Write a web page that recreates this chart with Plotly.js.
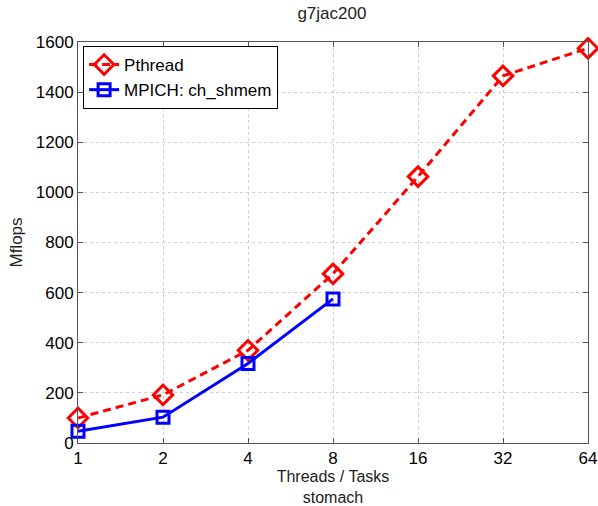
<!DOCTYPE html>
<html>
<head>
<meta charset="utf-8">
<script src="https://cdn.plot.ly/plotly-3.0.1.min.js"></script>
<style>html,body{margin:0;padding:0;background:#fff;}#chart{width:598px;height:506px;}</style>
</head>
<body>
<div id="chart"></div>
<script>
const threads = ['1', '2', '4', '8', '16', '32', '64'];
const pthreadMflops = [100, 192, 370, 675, 1063, 1465, 1575];
const mpichThreads = ['1', '2', '4', '8'];
const mpichMflops = [47, 103, 317, 575];
const yTicks = [0, 200, 400, 600, 800, 1000, 1200, 1400, 1600];

const font = 'Liberation Sans, Arial, Helvetica, sans-serif';

const traces = [
  {
    x: threads, y: pthreadMflops, name: 'Pthread', type: 'scatter', mode: 'lines+markers',
    cliponaxis: false,
    line: {color: '#ff0000', width: 3, dash: '8px,5px'},
    marker: {symbol: 'diamond-open', size: 15, color: '#ff0000', line: {width: 3, color: '#ff0000'}}
  },
  {
    x: mpichThreads, y: mpichMflops, name: 'MPICH: ch_shmem', type: 'scatter', mode: 'lines+markers',
    cliponaxis: false,
    line: {color: '#0000ff', width: 3},
    marker: {symbol: 'square-open', size: 12, color: '#0000ff', line: {width: 3, color: '#0000ff'}}
  }
];

const layout = {
  width: 598, height: 506,
  margin: {l: 78, r: 10, t: 42, b: 63},
  paper_bgcolor: '#fff', plot_bgcolor: '#fff',
  font: {family: font, size: 17, color: '#000'},
  title: {text: 'g7jac200', font: {family: font, size: 17, color: '#222'}, x: 0.555, xanchor: 'center', y: 0.985, yanchor: 'top'},
  showlegend: true,
  legend: {
    x: 0.01, y: 0.99, xanchor: 'left', yanchor: 'top',
    bgcolor: '#fff', bordercolor: '#000', borderwidth: 1,
    font: {family: font, size: 17, color: '#000'},
    tracegroupgap: 0
  },
  xaxis: {
    type: 'category', categoryorder: 'array', categoryarray: threads,
    range: [0, 6],
    tickvals: threads, ticktext: threads,
    ticks: 'inside', ticklen: 5, tickcolor: '#555',
    showline: true, linecolor: '#555', linewidth: 1, mirror: 'allticks',
    showgrid: true, gridcolor: '#cfcfcf', griddash: 'dot', gridwidth: 1,
    zeroline: false,
    tickfont: {family: font, size: 17, color: '#000'},
    title: {text: 'Threads / Tasks<br>stomach', font: {family: font, size: 16, color: '#222'}, standoff: 5}
  },
  yaxis: {
    range: [0, 1600],
    tickvals: yTicks,
    ticks: 'inside', ticklen: 5, tickcolor: '#555',
    showline: true, linecolor: '#555', linewidth: 1, mirror: 'allticks',
    showgrid: true, gridcolor: '#cfcfcf', griddash: 'dot', gridwidth: 1,
    zeroline: false,
    tickfont: {family: font, size: 17, color: '#000'},
    title: {text: 'Mflops', font: {family: font, size: 17, color: '#222'}, standoff: 8}
  }
};

Plotly.newPlot('chart', traces, layout, {displayModeBar: false, staticPlot: true});
</script>
</body>
</html>
